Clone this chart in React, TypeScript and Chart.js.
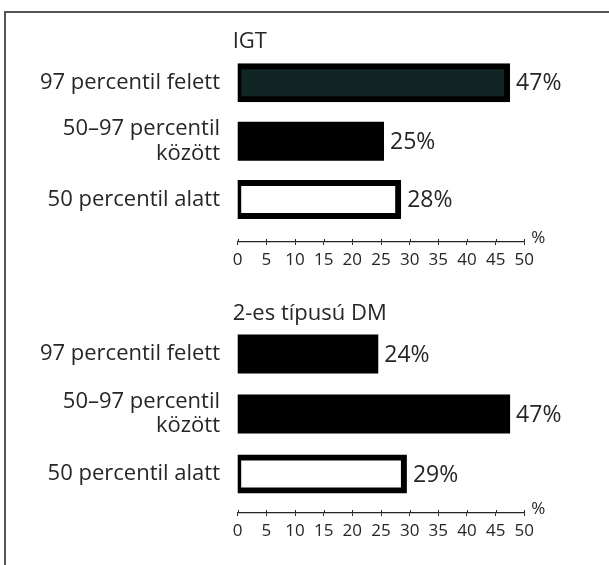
import React, { useEffect, useRef } from "react";
import { Chart, registerables } from "chart.js";

Chart.register(...registerables);

// Row labels shared by both groups (second row wraps onto two lines)
const categories: (string | string[])[] = [
  "97 percentil felett",
  ["50–97 percentil", "között"],
  "50 percentil alatt",
];

// Percentages per group
const igtValues = [47, 25, 28];
const dmValues = [24, 47, 29];

// Group titles
const igtTitle = "IGT";
const dmTitle = "2-es típusú DM";

// Axis range and step (percent)
const axisMin = 0;
const axisMax = 50;
const axisStep = 5;
const unitLabel = "%";

const INK = "#262626";
const FAMILY = "'Open Sans', Lato, sans-serif";

type PanelStyle = {
  fills: string[];
  borders: number[];
};

const igtStyle: PanelStyle = {
  fills: ["#112624", "#000000", "#ffffff"],
  borders: [6, 0, 6],
};
const dmStyle: PanelStyle = {
  fills: ["#000000", "#000000", "#ffffff"],
  borders: [0, 0, 6],
};

// Draws value labels, the group title, upper halves of tick marks and the unit sign
const annotate = {
  id: "annotate",
  afterDraw(chart: any, _args: any, opts: any) {
    const ctx: CanvasRenderingContext2D = chart.ctx;
    const meta = chart.getDatasetMeta(0);
    const ds = chart.data.datasets[0];
    const xs = chart.scales.x;
    ctx.save();
    ctx.fillStyle = INK;

    ctx.font = `23px ${FAMILY}`;
    ctx.textAlign = "left";
    ctx.textBaseline = "middle";
    meta.data.forEach((bar: any, i: number) => {
      const v = ds.data[i].x;
      ctx.fillText(`${v}%`, bar.x + 9, bar.y + 1);
    });

    const first = meta.data[0];
    ctx.font = `22px ${FAMILY}`;
    ctx.textBaseline = "alphabetic";
    ctx.fillText(opts.title, chart.chartArea.left - 5, first.y - first.height / 2 - 3 - 15);

    ctx.strokeStyle = INK;
    ctx.lineWidth = 1;
    xs.ticks.forEach((_t: any, i: number) => {
      const px = Math.round(xs.getPixelForTick(i)) + 0.5;
      ctx.beginPath();
      ctx.moveTo(px, xs.top);
      ctx.lineTo(px, xs.top - 3);
      ctx.stroke();
    });

    ctx.font = `17px ${FAMILY}`;
    ctx.fillText(unitLabel, xs.right + 7, xs.top + 1);
    ctx.restore();
  },
};

type PanelProps = {
  title: string;
  values: number[];
  style: PanelStyle;
  top: number;
  height: number;
  padTop: number;
  padBottom: number;
  yMax: number;
};

function Panel({ title, values, style, top, height, padTop, padBottom, yMax }: PanelProps) {
  const ref = useRef<HTMLCanvasElement | null>(null);

  useEffect(() => {
    if (!ref.current) return;
    const chart = new Chart(ref.current, {
      type: "bar",
      data: {
        datasets: [
          {
            data: values.map((v, i) => ({ x: v, y: i })),
            backgroundColor: style.fills,
            borderColor: "#000000",
            borderWidth: style.borders,
            borderSkipped: false,
            inflateAmount: 3,
            barThickness: 33,
          } as any,
        ],
      },
      plugins: [annotate],
      options: {
        indexAxis: "y",
        animation: false,
        responsive: false,
        devicePixelRatio: 1,
        layout: { padding: { top: padTop, bottom: padBottom, left: 0, right: 84.7 } },
        plugins: {
          legend: { display: false },
          tooltip: { enabled: false },
          annotate: { title },
        } as any,
        scales: {
          y: {
            type: "linear",
            reverse: true,
            offset: false,
            min: -0.5,
            max: yMax,
            afterBuildTicks: (s: any) => {
              s.ticks = categories.map((_c, i) => ({ value: i }));
            },
            afterFit: (s: any) => {
              s.width = 237.7;
            },
            grid: { display: false, drawTicks: false, offset: false },
            border: { display: false },
            ticks: {
              padding: 17.7,
              color: INK,
              font: { family: FAMILY, size: 22, lineHeight: 1.1 },
              callback: (v: any) => categories[v as number] ?? "",
            },
          },
          x: {
            type: "linear",
            min: axisMin,
            max: axisMax,
            afterFit: (s: any) => {
              s.height = 32;
            },
            grid: { drawOnChartArea: false, drawTicks: true, tickLength: 3, color: INK, lineWidth: 1 },
            border: { display: true, color: INK, width: 1.3 },
            ticks: {
              stepSize: axisStep,
              padding: 5,
              color: INK,
              maxRotation: 0,
              autoSkip: false,
              font: { family: FAMILY, size: 17 },
            },
          },
        },
      } as any,
    });
    return () => chart.destroy();
  }, []);

  return (
    <canvas
      ref={ref}
      width={609}
      height={height}
      style={{ position: "absolute", left: 0, top, width: 609, height }}
    />
  );
}

export default function App() {
  return (
    <div
      style={{
        position: "fixed",
        left: 0,
        top: 0,
        width: 609,
        height: 565,
        overflow: "hidden",
        background: "#ffffff",
      }}
    >
      <div
        style={{
          position: "absolute",
          left: 4,
          top: 11,
          width: 700,
          height: 700,
          border: "2px solid #555555",
        }}
      />
      <Panel
        title={igtTitle}
        values={igtValues}
        style={igtStyle}
        top={0}
        height={290}
        padTop={53.6}
        padBottom={16}
        yMax={2.728}
      />
      <Panel
        title={dmTitle}
        values={dmValues}
        style={dmStyle}
        top={290}
        height={275}
        padTop={34}
        padBottom={20}
        yMax={2.65}
      />
    </div>
  );
}
